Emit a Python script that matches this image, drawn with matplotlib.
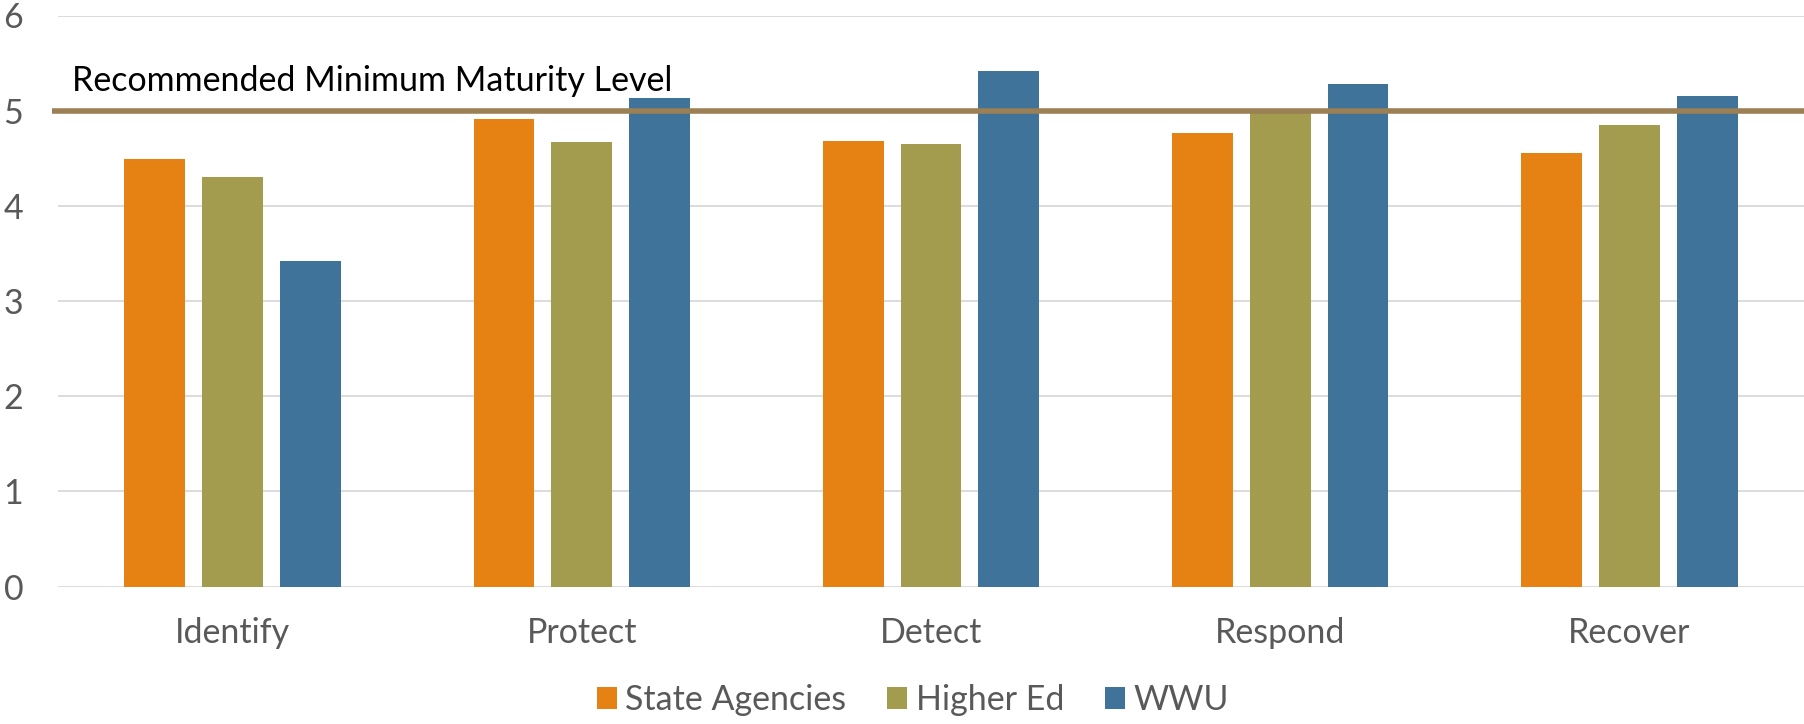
import matplotlib
matplotlib.use("Agg")
import matplotlib.pyplot as plt
import matplotlib.transforms as mtransforms
import numpy as np

categories = ["Identify", "Protect", "Detect", "Respond", "Recover"]
state_agencies = [4.49, 4.91, 4.68, 4.77, 4.55]
higher_ed = [4.30, 4.67, 4.65, 4.99, 4.85]
wwu = [3.42, 5.13, 5.42, 5.28, 5.15]
recommended_level = 5.0
series_names = ["State Agencies", "Higher Ed", "WWU"]
colors = ["#E68214", "#A39B4E", "#3F7399"]

plt.rcParams["font.family"] = ["Lato", "DejaVu Sans"]
FS = 24.5

fig = plt.figure(figsize=(18.04, 7.24), dpi=100)
ax = fig.add_axes([58 / 1804, 137.5 / 724, 1 - 58 / 1804, 571 / 724])

x = np.arange(len(categories))
width = 0.174
step = 0.223
for i, (vals, name, c) in enumerate(zip([state_agencies, higher_ed, wwu], series_names, colors)):
    ax.bar(x + (i - 1) * step, vals, width, color=c, label=name, zorder=3)

# recommended level line (starts a bit left of the plot area)
trans = mtransforms.blended_transform_factory(ax.transAxes, ax.transData)
ax.plot([-6 / 1746, 1], [recommended_level, recommended_level], transform=trans,
        color="#9B7F55", lw=4, zorder=4, clip_on=False, solid_capstyle="butt")
ax.text(14 / 1746, recommended_level + 0.21, "Recommended Minimum Maturity Level",
        transform=trans, fontsize=FS, color="black", ha="left", va="baseline")

ax.set_xlim(-0.5, len(categories) - 0.5)
ax.set_ylim(0, 6)
ax.set_yticks(range(7))
ax.grid(axis="y", color="#D9D9D9", lw=1.3, zorder=0)
for s in ax.spines.values():
    s.set_visible(False)
ax.set_xticks(x)
ax.set_xticklabels(categories)
ax.tick_params(axis="both", length=0, labelsize=FS, labelcolor="#595959")
ax.tick_params(axis="x", pad=22)
ax.tick_params(axis="y", pad=25)

leg = fig.legend(loc="center", bbox_to_anchor=(913 / 1804, 24 / 724), ncol=3, frameon=False,
                 fontsize=FS, handlelength=0.58, handleheight=0.58, handletextpad=0.26,
                 columnspacing=1.2)
for t in leg.get_texts():
    t.set_color("#595959")

plt.savefig("out.png", dpi=100)
